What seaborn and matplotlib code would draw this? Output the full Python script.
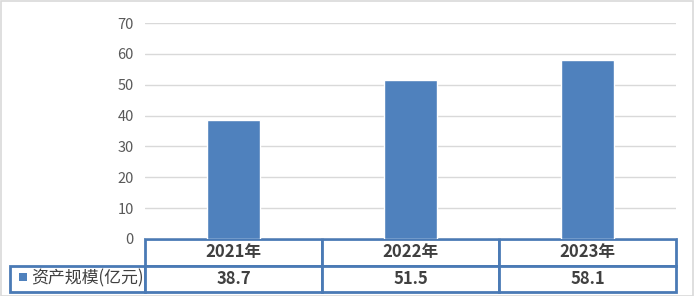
import matplotlib
matplotlib.use("Agg")
import matplotlib.pyplot as plt
import seaborn as sns
import pandas as pd
from matplotlib.patches import Rectangle

years = ["2021年", "2022年", "2023年"]
values = [38.7, 51.5, 58.1]
value_labels = ["38.7", "51.5", "58.1"]
series_name = "资产规模(亿元)"
yticks = [0, 10, 20, 30, 40, 50, 60, 70]

sns.set_theme(style="white")
plt.rcParams['font.family'] = ['Noto Sans CJK SC', 'DejaVu Sans']

W, H = 694, 296
fig = plt.figure(figsize=(W / 100, H / 100), dpi=100)
fig.patch.set_facecolor("white")
fig.add_artist(Rectangle((0.5 / W, 0.5 / H), 1 - 1.5 / W, 1 - 1.5 / H, transform=fig.transFigure,
                         fill=False, edgecolor="#d9d9d9", linewidth=1.2))

ax_l, ax_r, ax_t, ax_b = 145, 676, 23, 239
ax = fig.add_axes([ax_l / W, 1 - ax_b / H, (ax_r - ax_l) / W, (ax_b - ax_t) / H])

df = pd.DataFrame({"year": years, "value": values})
sns.barplot(data=df, x="year", y="value", ax=ax, color="#4f81bd", saturation=1,
            width=0.305, zorder=3)
ax.set_xlim(-0.5, 2.5)
ax.set_ylim(0, 70)
ax.set_yticks(yticks)
ax.set_yticklabels([str(v) for v in yticks])
ax.tick_params(axis="y", length=0, pad=8, labelsize=10.5, labelcolor="#595959")
ax.set_xticks([])
ax.set_xlabel("")
ax.set_ylabel("")
for s in ax.spines.values():
    s.set_visible(False)
ax.yaxis.grid(True, color="#d9d9d9", linewidth=1)
ax.set_axisbelow(True)

# data table
axw = ax_r - ax_l
axh = ax_b - ax_t
tb_left, tb_bottom = 10, 292
bbox = [(tb_left - ax_l) / axw, -(tb_bottom - ax_b) / axh, (ax_r - tb_left) / axw, (tb_bottom - ax_b) / axh]
lab_w = ax_l - tb_left
col_w = axw / 3
tot = lab_w + 3 * col_w
cell_text = [[""] + years, [series_name] + value_labels]
tbl = ax.table(cellText=cell_text, colWidths=[lab_w / tot] + [col_w / tot] * 3,
               cellLoc="center", bbox=bbox)
tbl.auto_set_font_size(False)
for (r, c), cell in tbl.get_celld().items():
    cell.set_edgecolor("#4a7ab5")
    cell.set_linewidth(2)
    cell.set_facecolor("white")
    t = cell.get_text()
    t.set_color("#404040")
    t.set_fontsize(12)
    t.set_fontfamily(['Noto Sans CJK SC', 'DejaVu Sans'])
    if c == 0:
        if r == 0:
            cell.visible_edges = "open"
            cell.set_facecolor("none")
        else:
            t.set_horizontalalignment("left")
            cell.PAD = 0.16
            t.set_fontsize(12.2)
    else:
        t.set_fontweight("bold")

# legend key square in the row label
ax.add_patch(Rectangle(((19 - ax_l) / axw, -(281 - ax_b) / axh), 8 / axw, 8 / axh,
                       transform=ax.transAxes, clip_on=False, facecolor="#4f81bd",
                       edgecolor="none", zorder=10))

fig.savefig("out.png", dpi=100, facecolor="white")
